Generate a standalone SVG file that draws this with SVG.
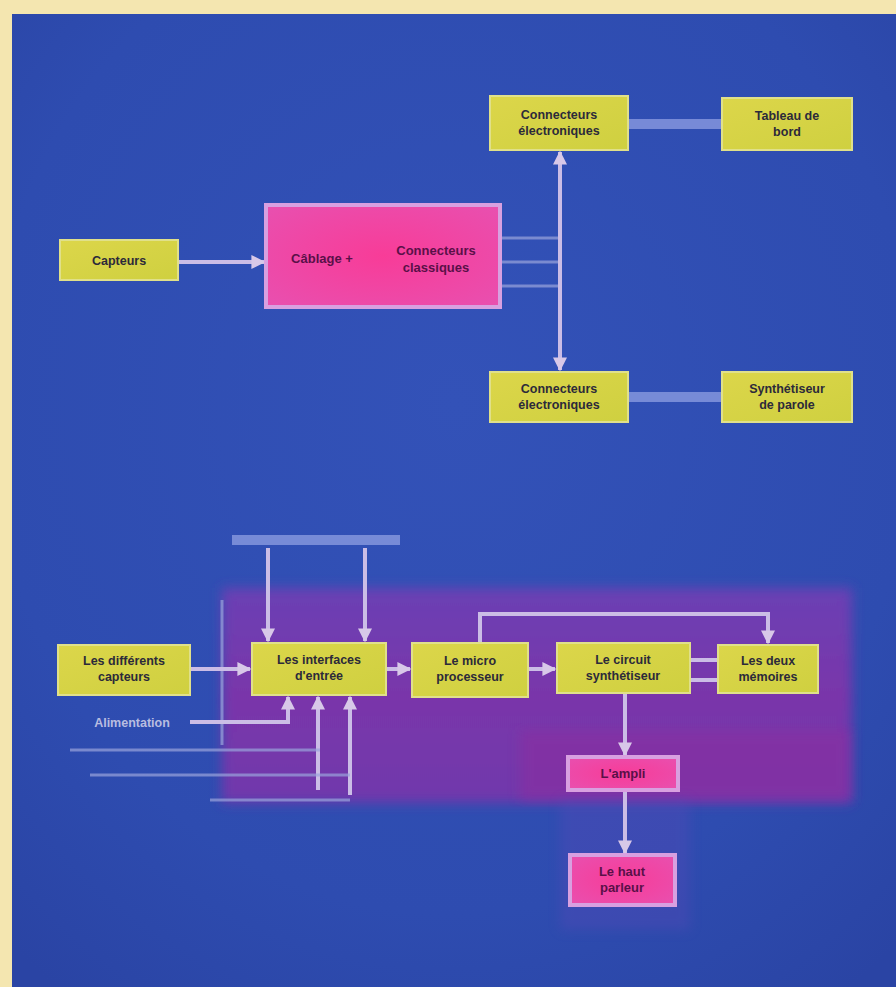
<svg xmlns="http://www.w3.org/2000/svg" width="896" height="987" viewBox="0 0 896 987">
  <defs>
    <radialGradient id="bg" cx="0.5" cy="0.4" r="0.75">
      <stop offset="0" stop-color="#3352b8"/>
      <stop offset="0.7" stop-color="#2e4cb0"/>
      <stop offset="1" stop-color="#2a44a4"/>
    </radialGradient>
    <linearGradient id="purple" x1="0" y1="0" x2="0" y2="1">
      <stop offset="0" stop-color="#6a40b4"/>
      <stop offset="0.5" stop-color="#7a36aa"/>
      <stop offset="1" stop-color="#7038ac"/>
    </linearGradient>
    <linearGradient id="yellow" x1="0" y1="0" x2="1" y2="1">
      <stop offset="0" stop-color="#dcd64a"/>
      <stop offset="1" stop-color="#cfd040"/>
    </linearGradient>
    <radialGradient id="pink" cx="0.5" cy="0.5" r="0.7">
      <stop offset="0" stop-color="#f83c98"/>
      <stop offset="1" stop-color="#e850b0"/>
    </radialGradient>
    <filter id="soft" x="-10%" y="-10%" width="120%" height="120%">
      <feGaussianBlur stdDeviation="6"/>
    </filter>
    <marker id="arr" viewBox="0 0 10 10" refX="9" refY="5" markerWidth="3.5" markerHeight="3.5" orient="auto-start-reverse">
      <path d="M0,0 L10,5 L0,10 z" fill="#d8c8e8"/>
    </marker>
    <style>
      .box { fill: url(#yellow); stroke: #e0e08a; stroke-width: 2; }
      .pbox { fill: url(#pink); stroke: #d8a0e0; stroke-width: 4; }
      .lbl { font-family: "Liberation Sans", Arial, sans-serif; font-size: 12.5px; font-weight: bold; fill: #2c2a3a; text-anchor: middle; }
      .plbl { font-family: "Liberation Sans", Arial, sans-serif; font-size: 13px; font-weight: bold; fill: #5a1048; text-anchor: middle; }
      .wire { fill: none; stroke: #cbbde6; stroke-width: 4; }
      .band { fill: none; stroke: #8a9ae0; stroke-width: 10; opacity: 0.8; }
      .faint { fill: none; stroke: #9aa4dc; stroke-width: 3; opacity: 0.7; }
    </style>
  </defs>

  <!-- paper edge and blue panel -->
  <rect x="0" y="0" width="896" height="987" fill="#f4e6b0"/>
  <rect x="12" y="14" width="884" height="973" fill="url(#bg)"/>
  <!-- purple field behind the lower chain -->
  <rect x="222" y="588" width="630" height="215" fill="url(#purple)" filter="url(#soft)"/>
  <rect x="520" y="730" width="330" height="70" fill="#8a2ea0" opacity="0.6" filter="url(#soft)"/>
  <rect x="560" y="800" width="130" height="130" fill="#5a4ab8" opacity="0.35" filter="url(#soft)"/>

  <!-- connectors -->
  <g id="connectors">
    <line class="band" x1="628" y1="124" x2="722" y2="124"/>
    <line class="wire" x1="178" y1="262" x2="264" y2="262" marker-end="url(#arr)"/>
    <line class="faint" x1="500" y1="238" x2="560" y2="238"/>
    <line class="faint" x1="500" y1="262" x2="560" y2="262"/>
    <line class="faint" x1="500" y1="286" x2="560" y2="286"/>
    <line class="wire" x1="560" y1="152" x2="560" y2="370" marker-start="url(#arr)" marker-end="url(#arr)"/>
    <line class="band" x1="628" y1="397" x2="722" y2="397"/>

    <!-- upper feeds into the input interfaces -->
    <line class="band" x1="232" y1="540" x2="400" y2="540"/>
    <line class="wire" x1="268" y1="548" x2="268" y2="641" marker-end="url(#arr)"/>
    <line class="wire" x1="365" y1="548" x2="365" y2="641" marker-end="url(#arr)"/>
    <line class="faint" x1="222" y1="600" x2="222" y2="745"/>

    <!-- main chain -->
    <line class="wire" x1="190" y1="669" x2="250" y2="669" marker-end="url(#arr)"/>
    <line class="wire" x1="386" y1="669" x2="410" y2="669" marker-end="url(#arr)"/>
    <line class="wire" x1="528" y1="669" x2="555" y2="669" marker-end="url(#arr)"/>
    <line class="wire" x1="690" y1="660" x2="718" y2="660"/>
    <line class="wire" x1="690" y1="680" x2="718" y2="680"/>
    <polyline class="wire" points="480,643 480,614 768,614 768,643" marker-end="url(#arr)"/>
    <line class="wire" x1="625" y1="693" x2="625" y2="755" marker-end="url(#arr)"/>
    <line class="wire" x1="625" y1="790" x2="625" y2="853" marker-end="url(#arr)"/>

    <!-- supply and lower feeds -->
    <polyline class="wire" points="190,722 288,722 288,697" marker-end="url(#arr)"/>
    <line class="wire" x1="318" y1="790" x2="318" y2="697" marker-end="url(#arr)"/>
    <line class="wire" x1="350" y1="795" x2="350" y2="697" marker-end="url(#arr)"/>
    <line class="faint" x1="70" y1="750" x2="320" y2="750"/>
    <line class="faint" x1="90" y1="775" x2="350" y2="775"/>
    <line class="faint" x1="210" y1="800" x2="350" y2="800"/>
  </g>

  <!-- nodes -->
  <g id="n-connecteurs-haut">
    <rect class="box" x="490" y="96" width="138" height="54"/>
    <text class="lbl" x="559" y="119">Connecteurs</text>
    <text class="lbl" x="559" y="135">électroniques</text>
  </g>
  <g id="n-tableau">
    <rect class="box" x="722" y="98" width="130" height="52"/>
    <text class="lbl" x="787" y="120">Tableau de</text>
    <text class="lbl" x="787" y="136">bord</text>
  </g>
  <g id="n-capteurs">
    <rect class="box" x="60" y="240" width="118" height="40"/>
    <text class="lbl" x="119" y="265">Capteurs</text>
  </g>
  <g id="n-cablage">
    <rect class="pbox" x="266" y="205" width="234" height="102"/>
    <text class="plbl" x="322" y="263">Câblage +</text>
    <text class="plbl" x="436" y="255">Connecteurs</text>
    <text class="plbl" x="436" y="272">classiques</text>
  </g>
  <g id="n-connecteurs-bas">
    <rect class="box" x="490" y="372" width="138" height="50"/>
    <text class="lbl" x="559" y="393">Connecteurs</text>
    <text class="lbl" x="559" y="409">électroniques</text>
  </g>
  <g id="n-synthetiseur-parole">
    <rect class="box" x="722" y="372" width="130" height="50"/>
    <text class="lbl" x="787" y="393">Synthétiseur</text>
    <text class="lbl" x="787" y="409">de parole</text>
  </g>
  <g id="n-differents-capteurs">
    <rect class="box" x="58" y="645" width="132" height="50"/>
    <text class="lbl" x="124" y="665">Les différents</text>
    <text class="lbl" x="124" y="681">capteurs</text>
  </g>
  <g id="n-interfaces">
    <rect class="box" x="252" y="643" width="134" height="52"/>
    <text class="lbl" x="319" y="664">Les interfaces</text>
    <text class="lbl" x="319" y="680">d'entrée</text>
  </g>
  <g id="n-microprocesseur">
    <rect class="box" x="412" y="643" width="116" height="54"/>
    <text class="lbl" x="470" y="665">Le micro</text>
    <text class="lbl" x="470" y="681">processeur</text>
  </g>
  <g id="n-circuit">
    <rect class="box" x="557" y="643" width="133" height="50"/>
    <text class="lbl" x="623" y="664">Le circuit</text>
    <text class="lbl" x="623" y="680">synthétiseur</text>
  </g>
  <g id="n-memoires">
    <rect class="box" x="718" y="645" width="100" height="48"/>
    <text class="lbl" x="768" y="665">Les deux</text>
    <text class="lbl" x="768" y="681">mémoires</text>
  </g>
  <g id="n-ampli">
    <rect class="pbox" x="568" y="757" width="110" height="33"/>
    <text class="plbl" x="623" y="778">L'ampli</text>
  </g>
  <g id="n-haut-parleur">
    <rect class="pbox" x="570" y="855" width="105" height="50"/>
    <text class="plbl" x="622" y="876">Le haut</text>
    <text class="plbl" x="622" y="892">parleur</text>
  </g>

  <!-- supply label -->
  <text x="132" y="727" font-family="Liberation Sans, Arial, sans-serif" font-size="12.5" font-weight="bold" fill="#b8bce0" text-anchor="middle">Alimentation</text>
</svg>
